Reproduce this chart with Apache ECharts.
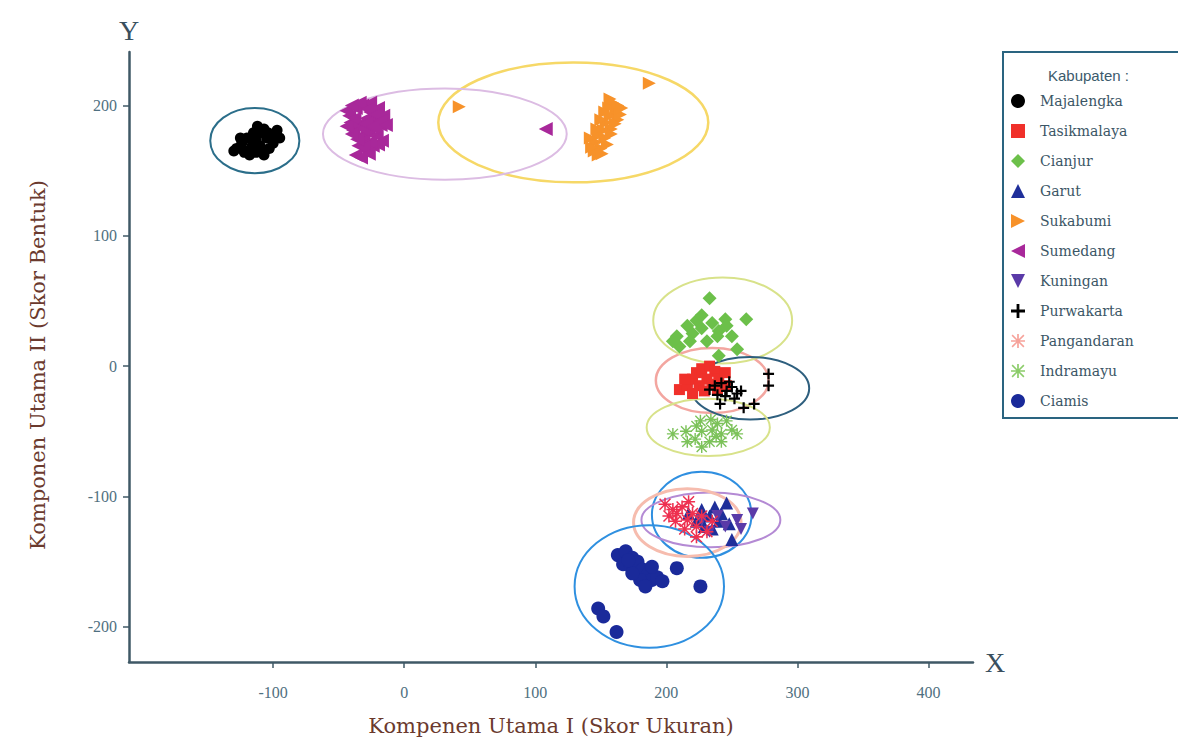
<!DOCTYPE html>
<html>
<head>
<meta charset="utf-8">
<script src="https://cdn.jsdelivr.net/npm/echarts@6/dist/echarts.min.js"></script>
<style>html,body{margin:0;padding:0;background:#fff}#c{width:1178px;height:747px}</style>
</head>
<body>
<div id="c"></div>
<script>
// ---- data ----
const xTicks = [-100, 0, 100, 200, 300, 400];
const yTicks = [-200, -100, 0, 100, 200];
const categories = ['Majalengka','Tasikmalaya','Cianjur','Garut','Sukabumi','Sumedang','Kuningan','Purwakarta','Pangandaran','Indramayu','Ciamis'];

const majalengka = [[-128,167],[-124,171],[-120,165],[-116,169],[-113,173],[-110,179],[-107,182],[-112,184],[-105,175],[-101,177],[-97,181],[-95,175],[-103,167],[-109,165],[-118,162],[-122,164],[-115,179],[-120,175],[-100,171],[-107,162],[-125,175],[-130,165],[-110,169],[-104,179],[-113,164]];
const tasikmalaya = [[210,-18],[216,-15],[220,-10],[223,-5],[227,-2],[233,0],[237,-4],[231,-10],[225,-15],[235,-14],[240,-10],[245,-5],[239,-18],[229,-19],[220,-21],[246,-15],[214,-10]];
const cianjur = [[233,52],[261,36],[208,23],[216,31],[223,35],[220,25],[227,29],[235,33],[240,27],[245,36],[210,15],[218,19],[231,19],[239,23],[246,31],[254,13],[240,8],[205,19],[227,39],[250,23]];
const garut = [[246,-105],[248,-121],[250,-133],[227,-110],[233,-115],[237,-108],[240,-119],[223,-119],[235,-125],[242,-113],[229,-123],[217,-113]];
const sukabumi = [[42,199],[187,217],[159,202],[162,196],[157,192],[154,187],[158,182],[152,181],[148,177],[146,172],[150,167],[145,165],[148,162],[153,175],[163,189],[156,198],[163,200],[165,193],[161,186],[158,178],[155,170],[151,163],[143,168],[142,175],[147,182],[150,189],[153,195],[157,205],[166,198]];
const sumedang = [[108,182],[-42,192],[-37,198],[-32,200],[-26,202],[-20,198],[-16,192],[-18,185],[-24,189],[-29,190],[-35,185],[-39,181],[-33,177],[-27,179],[-21,177],[-17,173],[-24,169],[-29,165],[-35,169],[-37,162],[-31,173],[-26,195],[-41,187],[-22,182],[-32,182],[-44,196],[-40,200],[-34,202],[-28,197],[-22,193],[-18,188],[-14,185],[-20,170],[-26,172],[-31,168],[-36,174],[-40,178],[-44,184],[-38,190],[-30,186],[-24,184],[-27,163],[-33,160]];
const kuningan = [[266,-113],[239,-115],[254,-118],[257,-125],[227,-118],[245,-123],[233,-127]];
const purwakarta = [[233,-18],[237,-15],[242,-13],[246,-19],[250,-16],[254,-21],[245,-23],[239,-22],[248,-12],[257,-19],[278,-6],[278,-15],[241,-29],[259,-32],[267,-29],[252,-25]];
const pangandaran = [[199,-106],[205,-110],[208,-113],[212,-108],[216,-118],[220,-113],[223,-123],[214,-125],[207,-119],[227,-115],[231,-127],[223,-131],[202,-115],[217,-104],[235,-119]];
const indramayu = [[205,-52],[215,-50],[223,-46],[226,-42],[234,-41],[227,-50],[235,-49],[239,-44],[242,-52],[250,-49],[254,-52],[222,-56],[233,-58],[242,-58],[227,-62],[216,-58],[246,-42],[238,-54]];
const ciamis = [[163,-145],[169,-142],[174,-147],[167,-152],[173,-154],[178,-150],[182,-156],[186,-160],[189,-164],[180,-164],[174,-159],[193,-162],[197,-165],[184,-169],[171,-149],[189,-154],[208,-155],[226,-169],[148,-186],[152,-192],[162,-204]];

// ellipses: [cx, cy, rx, ry] per kabupaten (same order as categories)
const ellipses = [
  [-114,173,34,25],
  [235,-11,43,25],
  [243,35,53,33],
  [227,-114,38,33],
  [129,187,103,46],
  [31,178,93,35],
  [234,-118,53,21],
  [264,-17,45,24],
  [216,-120,41,26],
  [232,-47,47,22],
  [187,-169,57,47]
];

// ---- styles ----
const seriesData = [majalengka,tasikmalaya,cianjur,garut,sukabumi,sumedang,kuningan,purwakarta,pangandaran,indramayu,ciamis];
const colors = ['#000000','#f0302a','#6cc04a','#1f2f9a','#f7922a','#a8289a','#5a3aa8','#000000','#ee3050','#7cc25a','#1a2a9a'];
const legendColors = ['#000000','#f0302a','#6cc04a','#1f2f9a','#f7922a','#a8289a','#5a3aa8','#000000','#f6a29a','#8ccc6a','#1a2a9a'];
const ellipseColors = ['#2b6e8a','#f3a6a0','#d8e28a','#2f8fe0','#f6d867','#dcbce3','#b48ad4','#2e5f7e','#f6bcae','#d8e28a','#2f90e0'];
const ellipseWidths = [2,2.5,2,2,2.5,2,2,2,3,2,2];
const PLUS = 'path://M4,0 H6 V4 H10 V6 H6 V10 H4 V6 H0 V4 H4 Z';
const STAR = 'path://M4.4,0 H5.6 V10 H4.4 Z M0,4.4 H10 V5.6 H0 Z M1.2,0.4 L9.6,8.8 L8.8,9.6 L0.4,1.2 Z M8.8,0.4 L9.6,1.2 L1.2,9.6 L0.4,8.8 Z';
const symbols = ['circle','rect','diamond','triangle','path://M0,0 L10,5 L0,10 Z','path://M10,0 L0,5 L10,10 Z','path://M0,0 L10,0 L5,10 Z',PLUS,STAR,STAR,'circle'];
const sizes = [11,11,14,13,13,14,12,11,13,12,14];

const serif = "'Liberation Serif','DejaVu Serif',serif";
const wideSerif = "'DejaVu Serif','Liberation Serif',serif";
const chart = echarts.init(document.getElementById('c'), null, {renderer:'svg'});

const series = [{
  type:'custom', name:'ellipses', silent:true, z:1,
  data: ellipses,
  renderItem: function(params, api){
    const c = api.coord([api.value(0), api.value(1)]);
    const s = api.size([api.value(2), api.value(3)]);
    return {type:'ellipse', shape:{cx:c[0], cy:c[1], rx:s[0], ry:s[1]},
      style:{fill:'none', stroke:ellipseColors[params.dataIndex], lineWidth:ellipseWidths[params.dataIndex]}};
  }
}];
categories.forEach((n,i)=>{
  series.push({type:'scatter', name:n, data:seriesData[i], symbol:symbols[i], symbolSize:sizes[i],
    itemStyle:{color:colors[i], opacity:1}, z:2+i});
});

chart.setOption({
  backgroundColor:'#ffffff',
  animation:false,
  grid:{left:129, right:205, top:52, bottom:85},
  title:{text:'Kabupaten :', left:1043, top:63, textStyle:{fontFamily:"'Liberation Sans',Arial,sans-serif", fontSize:15, fontWeight:'normal', color:'#3b5a6c'}},
  legend:{
    orient:'vertical', left:1003, top:52,
    padding:[42,60,10,8], itemGap:16, itemWidth:14, itemHeight:14,
    borderColor:'#2a6480', borderWidth:2, borderRadius:0,
    textStyle:{fontFamily:wideSerif, fontSize:14, color:'#3b5666', padding:[0,0,0,10]},
    data: categories.map((n,i)=>({name:n, icon:symbols[i], itemStyle:{color:legendColors[i]}}))
  },
  xAxis:{
    type:'value', min:-210, max:434,
    name:'X', nameLocation:'end', nameGap:12,
    nameTextStyle:{fontFamily:serif, fontSize:28, color:'#3a4f5e', verticalAlign:'middle'},
    axisLine:{show:true, onZero:false, lineStyle:{color:'#3f5866', width:2.5}},
    axisTick:{show:true, length:6, customValues:xTicks, lineStyle:{color:'#3f5866', width:1.5}},
    axisLabel:{customValues:xTicks, margin:22, fontFamily:serif, fontSize:16, color:'#4f7080'},
    splitLine:{show:false}
  },
  yAxis:{
    type:'value', min:-227, max:241,
    name:'Y', nameLocation:'end', nameGap:8,
    nameTextStyle:{fontFamily:serif, fontSize:28, color:'#3a4f5e', align:'center'},
    axisLine:{show:true, onZero:false, lineStyle:{color:'#3f5866', width:2.5}},
    axisTick:{show:true, length:6, customValues:yTicks, lineStyle:{color:'#3f5866', width:1.5}},
    axisLabel:{customValues:yTicks, margin:12, fontFamily:serif, fontSize:16, color:'#4f7080'},
    splitLine:{show:false}
  },
  graphic:[
    {type:'text', style:{text:'Kompenen Utama I (Skor Ukuran)', font:"21px 'DejaVu Serif'", fill:'#6b3a2e', x:551, y:726, align:'center', verticalAlign:'middle'}},
    {type:'text', x:38, y:365, rotation:Math.PI/2, style:{text:'Komponen Utama II (Skor Bentuk)', font:"21px 'DejaVu Serif'", fill:'#6b3a2e', align:'center', verticalAlign:'middle'}}
  ],
  series: series
});
</script>
</body>
</html>
